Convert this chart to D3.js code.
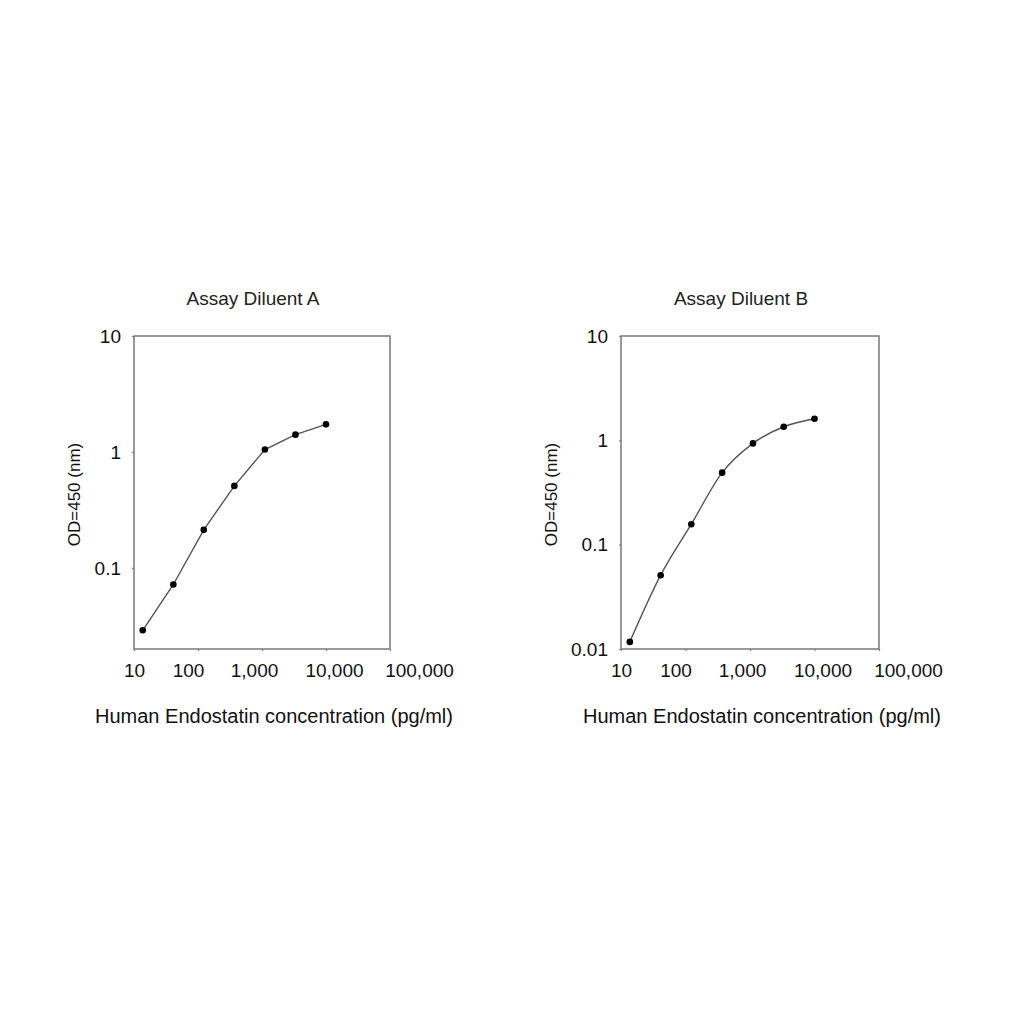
<!DOCTYPE html>
<html>
<head>
<meta charset="utf-8">
<script src="https://cdn.jsdelivr.net/npm/d3@7"></script>
<style>
  body { margin: 0; background: #fff; }
  svg { display: block; }
</style>
</head>
<body>
<div id="chart"></div>
<script>
// Concentrations (pg/ml), 3-fold serial dilution
const concentrations = [13.7, 41.2, 123, 370, 1111, 3333, 10000];

// OD values for each diluent
const odDiluentA = [0.029, 0.072, 0.213, 0.51, 1.05, 1.41, 1.73];
const odDiluentB = [0.0117, 0.051, 0.157, 0.49, 0.935, 1.35, 1.61];

const xTickValues = [10, 100, 1000, 10000, 100000];
const xTickLabels = ['10', '100', '1,000', '10,000', '100,000'];
const yTicksA = [0.1, 1, 10];
const yTicksB = [0.01, 0.1, 1, 10];

const panelTitles = ['Assay Diluent A', 'Assay Diluent B'];
const xLabel = 'Human Endostatin concentration (pg/ml)';
const yLabel = 'OD=450 (nm)';

const width = 1024;
const height = 1024;
const font = 'Liberation Sans, Arial, sans-serif';

// the original spreads its x tick labels a little apart from the ticks
const xLabelNudge = [0, -10, -8, 8, 29];

const svg = d3.select('#chart')
  .append('svg')
  .attr('width', width)
  .attr('height', height);

function drawPanel(opts) {
  const { left, right, top, bottom, yDomain, yTicks, values, title, curve, yLabelX } = opts;

  const x = d3.scaleLog().domain([10, 100000]).range([left, right]);
  const y = d3.scaleLog().domain(yDomain).range([bottom, top]);

  const g = svg.append('g');

  // plot frame
  g.append('rect')
    .attr('x', left)
    .attr('y', top)
    .attr('width', right - left)
    .attr('height', bottom - top)
    .attr('fill', 'none')
    .attr('stroke', '#808080')
    .attr('stroke-width', 1.6);

  // X axis
  const xAxis = g.append('g')
    .attr('transform', `translate(0,${bottom})`)
    .call(d3.axisBottom(x)
      .tickValues(xTickValues)
      .tickFormat((d, i) => xTickLabels[i])
      .tickSize(2)
      .tickPadding(13));
  xAxis.select('.domain').remove();
  xAxis.selectAll('line').attr('stroke', '#808080').attr('stroke-width', 1.2);
  xAxis.selectAll('text')
    .attr('dx', (d, i) => xLabelNudge[i])
    .attr('font-family', font)
    .attr('font-size', '19px')
    .attr('fill', '#111');

  // Y axis
  const yAxis = g.append('g')
    .attr('transform', `translate(${left},0)`)
    .call(d3.axisLeft(y)
      .tickValues(yTicks)
      .tickFormat(d => String(d))
      .tickSize(2)
      .tickPadding(11));
  yAxis.select('.domain').remove();
  yAxis.selectAll('line').attr('stroke', '#808080').attr('stroke-width', 1.2);
  yAxis.selectAll('text')
    .attr('font-family', font)
    .attr('font-size', '19px')
    .attr('fill', '#111');

  const pts = concentrations.map((c, i) => [c, values[i]]);

  // curve
  const line = d3.line()
    .curve(curve)
    .x(d => x(d[0]))
    .y(d => y(d[1]));

  g.append('path')
    .datum(pts)
    .attr('d', line)
    .attr('fill', 'none')
    .attr('stroke', '#555')
    .attr('stroke-width', 1.4);

  // points
  g.selectAll('.pt')
    .data(pts)
    .join('circle')
    .attr('class', 'pt')
    .attr('cx', d => x(d[0]))
    .attr('cy', d => y(d[1]))
    .attr('r', 3.3)
    .attr('fill', '#000');

  // title
  g.append('text')
    .attr('x', (left + right) / 2 - 9)
    .attr('y', 305)
    .attr('text-anchor', 'middle')
    .attr('font-family', font)
    .attr('font-size', '19px')
    .attr('fill', '#222')
    .text(title);

  // x label
  g.append('text')
    .attr('x', (left + right) / 2 + 12)
    .attr('y', 723)
    .attr('text-anchor', 'middle')
    .attr('font-family', font)
    .attr('font-size', '20px')
    .attr('fill', '#111')
    .text(xLabel);

  // y label
  g.append('text')
    .attr('transform', `translate(${yLabelX},${(top + bottom) / 2 + 2}) rotate(-90)`)
    .attr('text-anchor', 'middle')
    .attr('font-family', font)
    .attr('font-size', '17px')
    .attr('fill', '#111')
    .text(yLabel);
}

drawPanel({
  left: 134, right: 390, top: 336, bottom: 649,
  yDomain: [0.02, 10], yTicks: yTicksA,
  values: odDiluentA, title: panelTitles[0],
  curve: d3.curveLinear, yLabelX: 80
});

drawPanel({
  left: 621, right: 879, top: 336, bottom: 649,
  yDomain: [0.01, 10], yTicks: yTicksB,
  values: odDiluentB, title: panelTitles[1],
  curve: d3.curveMonotoneX, yLabelX: 557
});
</script>
</body>
</html>
